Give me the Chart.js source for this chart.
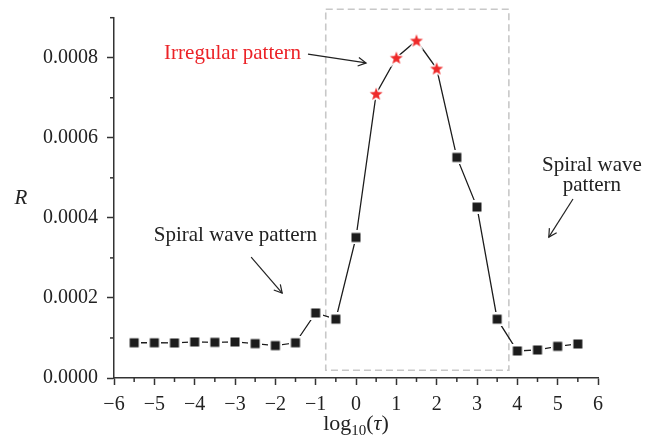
<!DOCTYPE html>
<html>
<head>
<meta charset="utf-8">
<script src="https://cdn.jsdelivr.net/npm/chart.js@4"></script>
<style>
  body { margin: 0; background: #fff; }
  #wrap { width: 658px; height: 442px; }
</style>
</head>
<body>
<div id="wrap"><canvas id="myChart" width="658" height="442"></canvas></div>
<script>
// data
const logTau = [-5.5, -5, -4.5, -4, -3.5, -3, -2.5, -2, -1.5, -1, -0.5, 0,
                0.5, 1, 1.5, 2, 2.5, 3, 3.5, 4, 4.5, 5, 5.5];
const R = [0.000088, 0.000088, 0.0000875, 0.00009, 0.000089, 0.00009, 0.000086, 0.000081,
           0.000088, 0.0001625, 0.000147, 0.000351,
           0.00071, 0.0008, 0.000843, 0.000773, 0.000551, 0.000427, 0.000147,
           0.0000675, 0.00007, 0.000079, 0.000085];
const pattern = ['s', 's', 's', 's', 's', 's', 's', 's', 's', 's', 's', 's',
                 'i', 'i', 'i', 'i', 's', 's', 's', 's', 's', 's', 's'];

// irregular region box (data units)
const boxX = [-0.75, 3.79];
const boxY = [0.0000193, 0.000921];

// annotations (data units)
const labels = [
  { text: 'Irregular pattern', x: -3.06, y: 0.000797, color: '#ec2227' },
  { text: 'Spiral wave pattern', x: -2.99, y: 0.000342, color: '#222' },
  { text: 'Spiral wave', x: 5.85, y: 0.000518, color: '#222' },
  { text: 'pattern', x: 5.85, y: 0.000467, color: '#222' }
];
const arrows = [
  { from: [-1.19, 0.000809], to: [0.25, 0.000787] },
  { from: [-2.60, 0.000302], to: [-1.83, 0.000212] },
  { from: [5.38, 0.000447], to: [4.78, 0.000352] }
];

const FONT = '"Liberation Serif", "Times New Roman", serif';

function makeSquare() {
  const c = document.createElement('canvas');
  c.width = 14; c.height = 14;
  const g = c.getContext('2d');
  g.fillStyle = '#fff';
  g.fillRect(0, 0, 14, 14);
  g.fillStyle = '#1c1c1c';
  g.fillRect(2.5, 2.5, 9, 9);
  return c;
}
function makeStar() {
  const c = document.createElement('canvas');
  c.width = 18; c.height = 18;
  const g = c.getContext('2d');
  g.beginPath();
  for (let i = 0; i < 10; i++) {
    const r = i % 2 === 0 ? 6.8 : 2.8;
    const a = -Math.PI / 2 + i * Math.PI / 5;
    const px = 9 + r * Math.cos(a), py = 9.6 + r * Math.sin(a);
    if (i === 0) g.moveTo(px, py); else g.lineTo(px, py);
  }
  g.closePath();
  g.lineWidth = 3;
  g.strokeStyle = '#fff';
  g.stroke();
  g.fillStyle = '#ee2a2a';
  g.fill();
  return c;
}
const sq = makeSquare(), star = makeStar();

const isMajorY = v => Math.round(v * 1e4) % 2 === 0;
const isMajorX = v => Math.abs(v - Math.round(v)) < 1e-6;

const extras = {
  id: 'extras',
  beforeDatasetsDraw(chart) {
    const x = chart.scales.x, y = chart.scales.y, c = chart.ctx;
    c.save();
    c.strokeStyle = '#c8c8c8';
    c.lineWidth = 1.6;
    c.setLineDash([7, 4]);
    const x0 = x.getPixelForValue(boxX[0]), x1 = x.getPixelForValue(boxX[1]);
    const y0 = y.getPixelForValue(boxY[1]), y1 = y.getPixelForValue(boxY[0]);
    c.strokeRect(x0, y0, x1 - x0, y1 - y0);
    c.restore();
  },
  afterDraw(chart) {
    const x = chart.scales.x, y = chart.scales.y, c = chart.ctx;
    const area = chart.chartArea;
    c.save();
    // minor ticks
    c.strokeStyle = '#333';
    c.lineWidth = 1.5;
    x.ticks.forEach(t => {
      if (!isMajorX(t.value)) {
        const px = x.getPixelForValue(t.value);
        c.beginPath(); c.moveTo(px, area.bottom); c.lineTo(px, area.bottom + 4); c.stroke();
      }
    });
    y.ticks.forEach(t => {
      if (!isMajorY(t.value)) {
        const py = y.getPixelForValue(t.value);
        c.beginPath(); c.moveTo(area.left, py); c.lineTo(area.left - 4, py); c.stroke();
      }
    });
    // text annotations
    c.font = '21px ' + FONT;
    c.textAlign = 'center';
    c.textBaseline = 'alphabetic';
    labels.forEach(l => {
      c.fillStyle = l.color;
      c.fillText(l.text, x.getPixelForValue(l.x), y.getPixelForValue(l.y));
    });
    // arrows
    c.strokeStyle = '#222';
    c.lineWidth = 1.2;
    arrows.forEach(a => {
      const fx = x.getPixelForValue(a.from[0]), fy = y.getPixelForValue(a.from[1]);
      const tx = x.getPixelForValue(a.to[0]), ty = y.getPixelForValue(a.to[1]);
      const ang = Math.atan2(ty - fy, tx - fx);
      c.beginPath(); c.moveTo(fx, fy); c.lineTo(tx, ty); c.stroke();
      c.beginPath();
      c.moveTo(tx - 9 * Math.cos(ang - 0.5), ty - 9 * Math.sin(ang - 0.5));
      c.lineTo(tx, ty);
      c.lineTo(tx - 9 * Math.cos(ang + 0.5), ty - 9 * Math.sin(ang + 0.5));
      c.stroke();
    });
    // axis titles
    c.fillStyle = '#222';
    c.font = 'italic 21px ' + FONT;
    c.textAlign = 'center';
    c.fillText('R', 21, 204);
    const cx = (area.left + area.right) / 2;
    c.font = '22px ' + FONT;
    c.textAlign = 'left';
    const w1 = c.measureText('log').width;
    c.font = '15px ' + FONT;
    const w2 = c.measureText('10').width;
    c.font = '22px ' + FONT;
    const w3 = c.measureText('(').width;
    c.font = 'italic 22px ' + FONT;
    const w4 = c.measureText('τ').width;
    c.font = '22px ' + FONT;
    const w5 = c.measureText(')').width;
    let sx = cx - (w1 + w2 + w3 + w4 + w5) / 2;
    const by = 430;
    c.fillText('log', sx, by); sx += w1;
    c.font = '15px ' + FONT;
    c.fillText('10', sx, by + 5); sx += w2;
    c.font = '22px ' + FONT;
    c.fillText('(', sx, by); sx += w3;
    c.font = 'italic 22px ' + FONT;
    c.fillText('τ', sx, by); sx += w4;
    c.font = '22px ' + FONT;
    c.fillText(')', sx, by);
    c.restore();
  }
};

const ctx = document.getElementById('myChart').getContext('2d');
const myChart = new Chart(ctx, {
  type: 'line',
  data: {
    datasets: [{
      data: logTau.map((t, i) => ({ x: t, y: R[i] })),
      borderColor: '#1c1c1c',
      borderWidth: 1.3,
      pointStyle: pattern.map(p => p === 'i' ? star : sq),
      pointRadius: 6,
      tension: 0
    }]
  },
  options: {
    responsive: false,
    animation: false,
    events: [],
    layout: { padding: { left: 0, right: 60, top: 17.7, bottom: 0 } },
    plugins: { legend: { display: false }, tooltip: { enabled: false } },
    scales: {
      x: {
        type: 'linear',
        min: -6, max: 6,
        border: { color: '#333', width: 1.5 },
        grid: {
          drawOnChartArea: false, tickLength: 7, tickWidth: 1.5,
          tickColor: c => isMajorX(c.tick.value) ? '#333' : 'rgba(0,0,0,0)'
        },
        ticks: {
          stepSize: 0.5, autoSkip: false, maxRotation: 0, padding: 8,
          color: '#222', font: { family: FONT, size: 20 },
          callback: v => isMajorX(v) ? (v < 0 ? '\u2212' + Math.abs(v) : String(Math.round(v))) : ''
        },
        afterFit: s => { s.height = 64; s.paddingLeft = 0; s.paddingRight = 0; }
      },
      y: {
        min: 0, max: 0.0009,
        border: { color: '#333', width: 1.5 },
        grid: {
          drawOnChartArea: false, tickLength: 7, tickWidth: 1.5,
          tickColor: c => isMajorY(c.tick.value) ? '#333' : 'rgba(0,0,0,0)'
        },
        ticks: {
          stepSize: 0.0001, padding: 9,
          color: '#222', font: { family: FONT, size: 20 },
          callback: v => isMajorY(v) ? v.toFixed(4) : ''
        },
        afterFit: s => { s.width = 114; s.paddingTop = 0; s.paddingBottom = 0; }
      }
    }
  },
  plugins: [extras]
});
</script>
</body>
</html>
